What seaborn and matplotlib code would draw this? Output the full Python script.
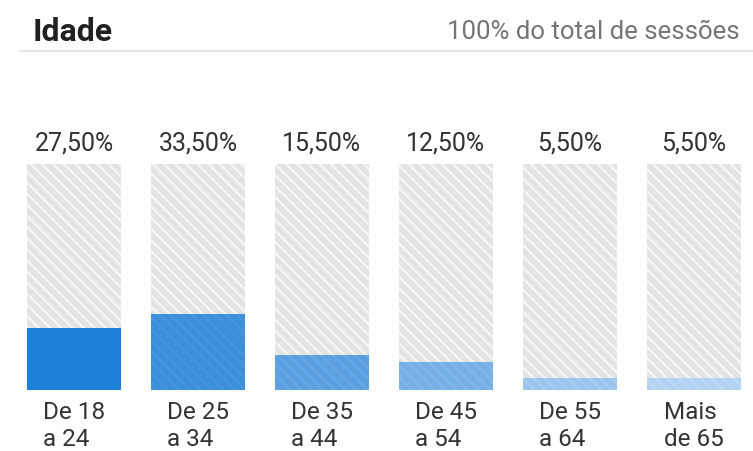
import matplotlib
matplotlib.use("Agg")
import matplotlib.pyplot as plt
import seaborn as sns
import pandas as pd

# data
faixas = ["De 18\na 24", "De 25\na 34", "De 35\na 44", "De 45\na 54", "De 55\na 64", "Mais\nde 65"]
valores = [27.5, 33.5, 15.5, 12.5, 5.5, 5.5]
rotulos = ["27,50%", "33,50%", "15,50%", "12,50%", "5,50%", "5,50%"]
total = [100] * 6
cores = ["#1f80da", "#3b8fdb", "#5aa0e0", "#76b0e6", "#9cc5ee", "#b3d2f1"]
listra = ["#1f80da", "#4695dd", "#66a8e4", "#82b8e9", "#a8cbf0", "#bdd8f3"]

sns.set_style("white")
plt.rcParams["font.family"] = ["Roboto", "DejaVu Sans"]
plt.rcParams["hatch.linewidth"] = 1.6

df = pd.DataFrame({"faixa": faixas, "valor": valores, "total": total})

fig = plt.figure(figsize=(7.53, 4.52), dpi=100)
ax = fig.add_axes([12 / 753, 61 / 452, 744 / 753, 226 / 452])

sns.barplot(data=df, x="faixa", y="total", color="#e3e3e3", width=0.758,
            saturation=1, ax=ax)
sns.barplot(data=df, x="faixa", y="valor", color="#1f80da", width=0.758,
            saturation=1, ax=ax)

n = len(faixas)
for p in ax.patches[:n]:
    p.set_hatch("\\\\\\")
    p.set_edgecolor("#f6f6f6")
    p.set_linewidth(0)
for p, c, e in zip(ax.patches[n:2 * n], cores, listra):
    p.set_facecolor(c)
    p.set_linewidth(0)
    if c != e:
        p.set_hatch("\\\\\\")
        p.set_edgecolor(e)

ax.bar_label(ax.containers[0], labels=rotulos, padding=7, fontsize=18,
             color="#333333")

ax.set_xlim(-0.5, 5.5)
ax.set_ylim(0, 100)
ax.set_xlabel("")
ax.set_ylabel("")
ax.set_yticks([])
ax.tick_params(axis="x", length=0, pad=7.5, labelsize=17.5, labelcolor="#333333")
for t in ax.get_xticklabels():
    t.set_multialignment("left")
    t.set_linespacing(1.18)
sns.despine(ax=ax, left=True, bottom=True)

fig.text(33 / 753, 1 - 32 / 452, "Idade", fontsize=23, fontweight="bold",
         color="#212121", va="center", ha="left")
fig.text(740 / 753, 1 - 32 / 452, "100% do total de sessões", fontsize=18.5,
         color="#757575", va="center", ha="right")
fig.add_artist(plt.Line2D([20 / 753, 1], [1 - 52 / 452, 1 - 52 / 452],
                          color="#e6e6e6", lw=1.5))

fig.savefig("out.png", dpi=100)
